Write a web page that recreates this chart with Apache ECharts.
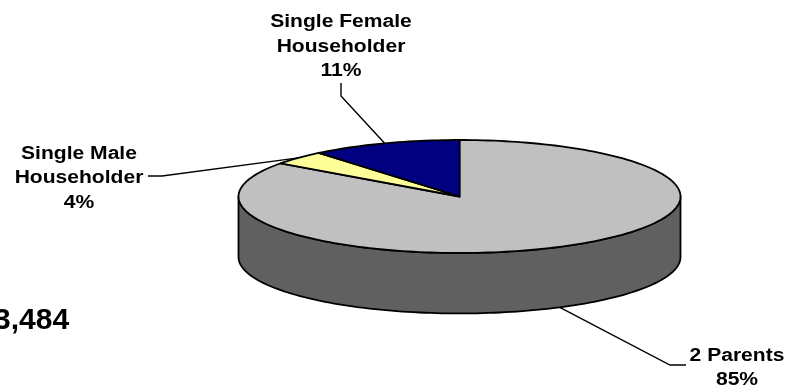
<!DOCTYPE html>
<html>
<head>
<meta charset="utf-8">
<style>html,body{margin:0;padding:0;background:#fff}#chart{width:801px;height:388px}</style>
<script src="https://cdn.jsdelivr.net/npm/echarts@6/dist/echarts.min.js"></script>
</head>
<body>
<div id="chart"></div>
<script>
// Household composition, drawn clockwise from twelve o'clock
const householdTypes = ['2 Parents', 'Single Male\nHouseholder', 'Single Female\nHouseholder'];
const shares = [85, 4, 11];
const totalLabel = '3,484';

const topColors = ['#c0c0c0', '#ffff99', '#000080'];
const wallColors = ['#606060', '#7f7f4c', '#000040'];

// Pie disc geometry in page pixels
const disc = { left: 238.5, right: 680.5, top: 140, bottom: 253 };
const wallDepth = 1.07; // thickness, in units of the disc's vertical radius

// Leader routes from each slice's rim anchor, with the centre of its label block
const leaders = [
  { elbow: [670, 365], end: [686, 365], label: [737, 368], onWall: true },
  { elbow: [162, 176], end: [148, 176], label: [79, 178.5], onWall: false },
  { elbow: [341, 96], end: [341, 83], label: [341, 47], onWall: false }
];

const total = shares.reduce((a, b) => a + b, 0);
const rows = [];
let running = 0;
shares.forEach((v, i) => {
  rows.push([i, running / total, (running + v) / total, v]);
  running += v;
});

const TAU = Math.PI * 2;
const rim = (f, drop) => [Math.sin(f * TAU), Math.cos(f * TAU) - (drop || 0)];

function arcPoints(a, b, drop) {
  const out = [];
  const n = Math.max(2, Math.ceil((b - a) * 240));
  for (let k = 0; k <= n; k++) out.push(rim(a + (b - a) * k / n, drop));
  return out;
}

const stroke = { stroke: '#000', lineWidth: 1.8, lineJoin: 'round' };

function renderWall(params, api) {
  const i = api.value(0);
  const a = Math.max(api.value(1), 0.25);
  const b = Math.min(api.value(2), 0.75);
  if (b <= a) return null;
  const pts = arcPoints(a, b, 0).concat(arcPoints(a, b, wallDepth).reverse()).map(p => api.coord(p));
  return { type: 'polygon', shape: { points: pts }, style: Object.assign({ fill: wallColors[i] }, stroke) };
}

function renderTop(params, api) {
  const i = api.value(0);
  const pts = [[0, 0]].concat(arcPoints(api.value(1), api.value(2), 0)).map(p => api.coord(p));
  return { type: 'polygon', shape: { points: pts }, style: Object.assign({ fill: topColors[i] }, stroke) };
}

function renderLeader(params, api) {
  const i = api.value(0);
  const mid = (api.value(1) + api.value(2)) / 2;
  const l = leaders[i];
  const anchor = api.coord(rim(mid, l.onWall ? wallDepth : 0));
  return {
    type: 'group',
    children: [
      { type: 'polyline', shape: { points: [anchor, l.elbow, l.end] }, style: { fill: 'none', stroke: '#000', lineWidth: 1.4 } },
      {
        type: 'text',
        x: l.label[0], y: l.label[1],
        scaleX: 1.17,
        style: {
          text: householdTypes[i] + '\n' + api.value(3) + '%',
          font: 'bold 18px "Liberation Sans", Arial, sans-serif',
          fill: '#000', align: 'center', verticalAlign: 'middle', lineHeight: 24.5
        }
      }
    ]
  };
}

const chart = echarts.init(document.getElementById('chart'), null, { renderer: 'canvas' });
chart.setOption({
  animation: false,
  backgroundColor: '#fff',
  grid: { left: disc.left, width: disc.right - disc.left, top: disc.top, height: disc.bottom - disc.top },
  xAxis: { type: 'value', min: -1, max: 1, show: false },
  yAxis: { type: 'value', min: -1, max: 1, show: false },
  series: [
    { type: 'custom', coordinateSystem: 'cartesian2d', data: rows, renderItem: renderWall, z: 1, silent: true, clip: false },
    { type: 'custom', coordinateSystem: 'cartesian2d', data: rows, renderItem: renderTop, z: 2, silent: true, clip: false },
    { type: 'custom', coordinateSystem: 'cartesian2d', data: rows, renderItem: renderLeader, z: 3, silent: true, clip: false }
  ],
  graphic: [{
    type: 'text', left: -6, top: 306,
    style: { text: totalLabel, font: 'bold 30px "Liberation Sans", Arial, sans-serif', fill: '#000' }
  }]
});
</script>
</body>
</html>
